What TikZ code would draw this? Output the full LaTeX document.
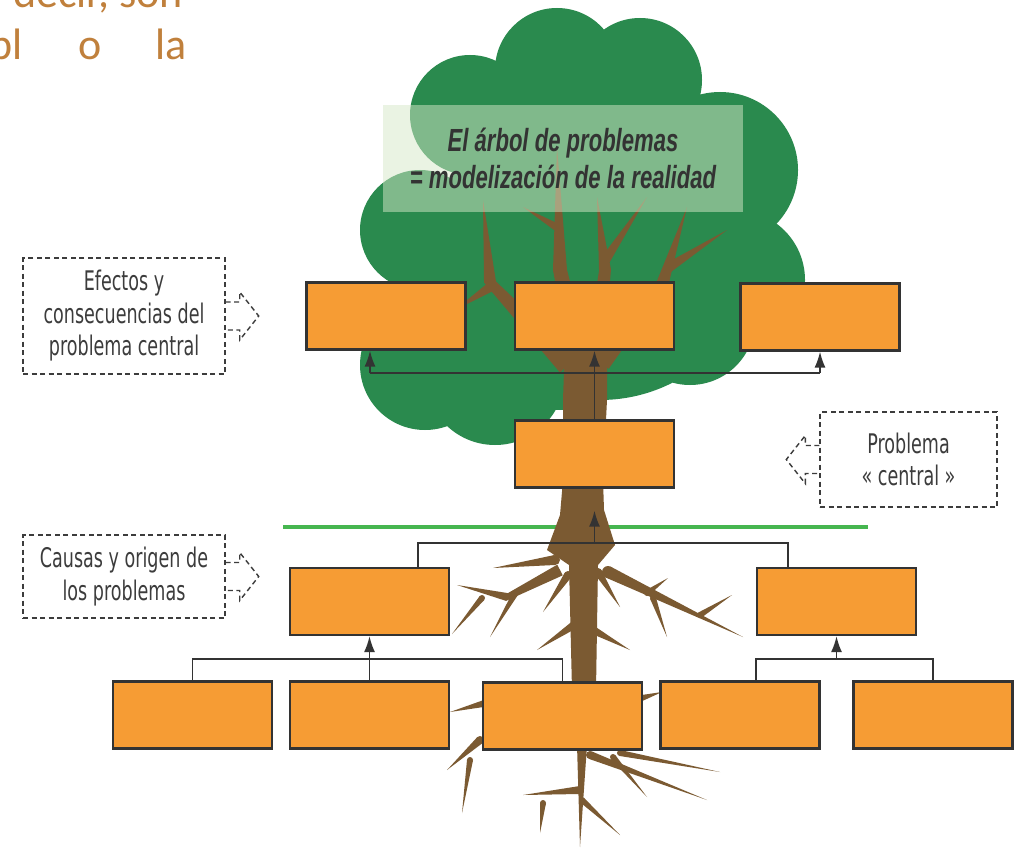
\documentclass[tikz,border=0pt]{standalone}
\usepackage{fontspec}
\usepackage{tikz}
\usetikzlibrary{
	arrows.meta,
	calc,
	}
\setmainfont{DejaVu Sans}
\newfontfamily\notefont[FakeStretch=0.65]{DejaVu Sans}
\newfontfamily\titlefont[FakeStretch=0.69]{Liberation Sans}
\newfontfamily\pagefont{Carlito}
\definecolor{leaf}{RGB}{42,138,78}
\definecolor{bark}{RGB}{123,90,50}
\definecolor{boxfill}{RGB}{246,156,52}
\definecolor{boxline}{RGB}{51,51,51}
\definecolor{ink}{RGB}{60,60,60}
\definecolor{groundline}{RGB}{70,182,80}
\definecolor{pagetext}{RGB}{192,128,60}
\definecolor{veil}{RGB}{215,232,200}
\tikzset{
	probbox/.style={draw=boxline,fill=boxfill,line width=2.2pt,minimum width=159pt,minimum height=67pt,inner sep=0pt},
	note/.style={draw=ink,line width=1.4pt,dash pattern=on 5pt off 3.5pt,align=center,text=ink,inner sep=0pt,font=\notefont\fontsize{27}{32.5}\selectfont},
	notedash/.style={draw=ink,line width=1.4pt,dash pattern=on 5pt off 3.5pt},
	link/.style={draw=boxline,line width=1.8pt},
	tip/.style={link,-{Latex[length=16pt,width=11pt]}},
	pics/notetab/.style={code={\draw[notedash] (0,-14) -- (14,-14) -- (14,-24) -- (33,0) -- (14,24) -- (14,14) -- (0,14);}},
	}
\newcommand\limb[3]{\fill[bark] ($(#1)!#3!90:(#2)$) -- (#2) -- ($(#1)!#3!-90:(#2)$) -- cycle; \fill[bark] (#1) circle (#3);}
\newcommand\bough[5]{\fill[bark] ($(#1)!#4!90:(#2)$) -- ($(#2)!#5!90:(#3)$) -- (#3) -- ($(#2)!#5!-90:(#3)$) -- ($(#1)!#4!-90:(#2)$) -- cycle;}
\begin{document}
\begin{tikzpicture}[x=1pt,y=-1pt]
\useasboundingbox (0,0) rectangle (1019,853);
\fill[white] (0,0) rectangle (1019,853);
\fill[leaf] (557,70) circle (62) (640,80) circle (62) (470,115) circle (60) (720,170) circle (78) (420,230) circle (60) (735,280) circle (70) (425,365) circle (65) (495,375) circle (70) (690,320) circle (65) (600,240) circle (160) (560,330) circle (80);
\bough{568,365}{490,282}{483,200}{11pt}{6pt}
\limb{492,286}{455,310}{5pt}
\bough{580,360}{560,270}{557,147}{10pt}{7pt}
\limb{558,228}{523,207}{4pt}
\bough{595,355}{605,270}{597,197}{9pt}{6pt}
\limb{604,262}{647,197}{5pt}
\bough{600,362}{663,282}{687,207}{11pt}{6pt}
\limb{668,268}{727,230}{5pt}
\draw[groundline,line width=4.5pt] (283,527) -- (868,527);
\fill[bark] (565,340) -- (607,340) -- (607,400) -- (603,480) -- (604,510) -- (615,545) -- (598,565) -- (596,690) -- (572,690) -- (569,565) -- (547,550) -- (560,515) -- (563,480) -- (563,400) -- cycle;
\limb{555,560}{493,568}{5pt}
\bough{560,570}{507,597}{457,585}{6pt}{4pt}
\limb{482,598}{452,634}{3pt}
\limb{515,594}{490,637}{3pt}
\limb{568,575}{543,612}{4pt}
\limb{574,625}{537,650}{4pt}
\limb{598,572}{620,607}{4pt}
\limb{608,572}{743,637}{6pt}
\limb{647,593}{668,578}{3pt}
\limb{700,615}{732,595}{3pt}
\limb{653,598}{667,637}{3pt}
\limb{593,630}{630,650}{4pt}
\limb{582,745}{580,847}{5pt}
\limb{580,790}{523,795}{4pt}
\limb{543,803}{540,833}{3pt}
\limb{582,800}{620,835}{3pt}
\limb{590,755}{707,800}{4pt}
\limb{620,753}{720,772}{3pt}
\limb{613,757}{647,797}{3pt}
\limb{480,740}{447,770}{4pt}
\limb{470,760}{462,813}{3pt}
\limb{490,702}{450,712}{4pt}
\limb{635,700}{662,692}{4pt}
\node[fill=veil,fill opacity=0.5,text opacity=1,minimum width=360pt,minimum height=107pt,align=center,text=boxline,font=\titlefont\bfseries\itshape\fontsize{32}{37}\selectfont] (title) at (563,158.5) {El árbol de problemas\\= modelización de la realidad};
\node[probbox] (e1) at (386,316) {};
\node[probbox] (e2) at (594.5,316) {};
\node[probbox] (e3) at (820,317) {};
\node[probbox] (cen) at (594.5,454) {};
\node[probbox] (c1) at (369.5,601.5) {};
\node[probbox] (c2) at (836.5,601.5) {};
\node[probbox] (b1) at (192.5,715) {};
\node[probbox] (b2) at (369.5,715) {};
\node[probbox] (b3) at (562.5,716) {};
\node[probbox] (b4) at (740,715) {};
\node[probbox] (b5) at (933,715) {};
\coordinate (tl) at (370,373);
\coordinate (tr) at (820,373);
\draw[link] (tl) -- (tr);
\draw[tip] (tl) -- (tl |- e1.south);
\draw[tip] (tr) -- (e3.south);
\draw[tip] (cen.north) -- (e2.south);
\coordinate (ml) at (418,543);
\coordinate (mr) at (788,543);
\coordinate (mj) at (594.5,543);
\draw[link] (ml |- c1.north) -- (ml) -- (mr) -- (mr |- c2.north);
\draw[tip,shorten >=22pt] (mj) -- (cen.south);
\coordinate (ll) at (192.5,659);
\coordinate (lr) at (562.5,659);
\draw[link] (b1.north) -- (ll) -- (lr) -- (b3.north);
\draw[tip] (b2.north) -- (c1.south);
\coordinate (rl) at (756,659);
\coordinate (rr) at (933,659);
\coordinate (rj) at (836.5,659);
\draw[link] (rl |- b4.north) -- (rl) -- (rr) -- (b5.north);
\draw[tip] (rj) -- (c2.south);
\node[note,minimum width=202pt,minimum height=116pt] (effects) at (124,316) {Efectos y\\consecuencias del\\problema central};
\pic at (effects.east) {notetab};
\node[note,minimum width=202pt,minimum height=83pt] (causes) at (124,576.5) {Causas y origen de\\los problemas};
\pic at (causes.east) {notetab};
\node[note,minimum width=177pt,minimum height=95pt] (core) at (908.5,459.5) {Problema\\« central »};
\pic[xscale=-1] at (core.west) {notetab};
\node[anchor=base east,inner sep=0pt,text=pagetext,font=\pagefont\fontsize{44}{52}\selectfont] (pageline) at (183,8) {decir, son};
\node[anchor=base west,inner sep=0pt,text=pagetext,font=\pagefont\fontsize{44}{52}\selectfont] (pagewords) at (-11,60) {bl\hspace{56pt}o\hspace{54pt}la};
\end{tikzpicture}
\end{document}
